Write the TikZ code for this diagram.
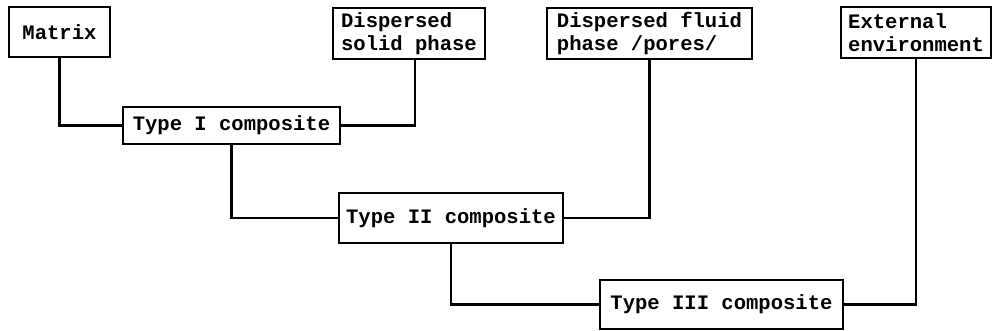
\documentclass[tikz,border=0pt]{standalone}
\usepackage{fontspec}
\setmonofont{Liberation Mono}
\usetikzlibrary{positioning}
\tikzset{
  every picture/.style={line width=1.5pt},
  box/.style={draw, line width=1.4pt, align=left, inner sep=0pt,
    font=\ttfamily\bfseries\fontsize{11.7}{12.8}\selectfont},
  link/.style={draw, line width=1.6pt},
}

\begin{document}
\begin{tikzpicture}[x=0.02cm, y=-0.02cm]
  \useasboundingbox (0,0) rectangle (993,331);
  % inputs along the top
  \node[box, minimum width=2.02cm, minimum height=1.00cm] (matrix) at (59.5,32) {Matrix};
  \node[box, minimum width=3.04cm, minimum height=1.02cm] (solid) at (409,33.5) {Dispersed\\solid phase};
  \node[box, minimum width=4.10cm, minimum height=1.02cm] (fluid) at (649.5,33.5) {Dispersed fluid\\phase /pores/};
  \node[box, minimum width=3.00cm, minimum height=1.02cm] (env) at (916,32.5) {External\\environment};
  % composites
  \node[box, minimum width=4.34cm, minimum height=0.74cm] (type1) at (231.5,125.5) {Type I composite};
  \node[box, minimum width=4.48cm, minimum height=1.00cm] (type2) at (451,218) {Type II composite};
  \node[box, minimum width=4.86cm, minimum height=0.98cm] (type3) at (721.5,304.5) {Type III composite};
  % connectors
  \draw[link] (matrix.south) |- (type1.west);
  \draw[link] ([xshift=0.12cm]solid.south) |- (type1.east);
  \draw[link] (type1.south) |- (type2.west);
  \draw[link] (fluid.south) |- (type2.east);
  \draw[link] (type2.south) |- (type3.west);
  \draw[link] (env.south) |- (type3.east);
\end{tikzpicture}
\end{document}
